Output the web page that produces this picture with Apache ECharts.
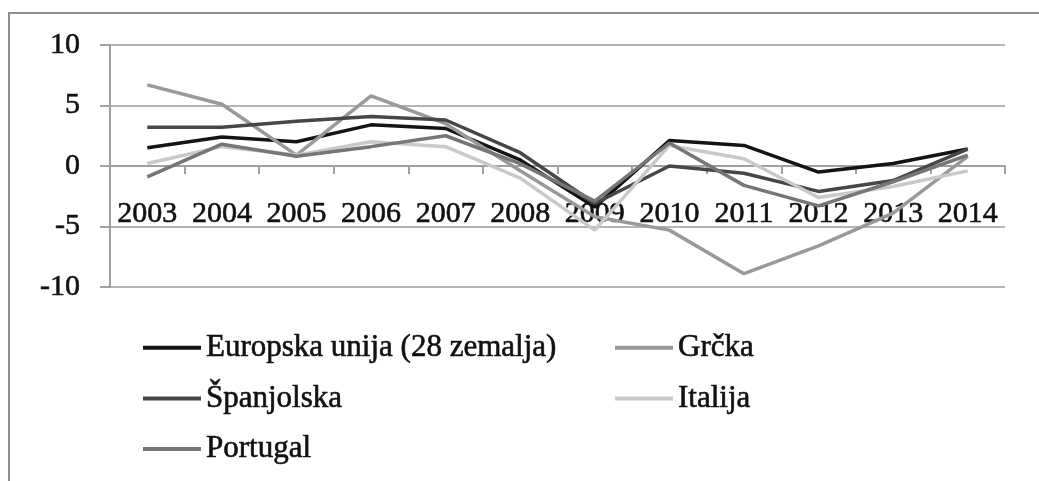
<!DOCTYPE html>
<html>
<head>
<meta charset="utf-8">
<title>Rast BDP-a</title>
<script src="https://cdn.jsdelivr.net/npm/echarts@6/dist/echarts.min.js"></script>
<style>
  html, body { margin: 0; padding: 0; background: #fff; }
  #chart { width: 1039px; height: 481px; }
</style>
</head>
<body>
<div id="chart"></div>
<script>
// godine
const years = ['2003', '2004', '2005', '2006', '2007', '2008', '2009', '2010', '2011', '2012', '2013', '2014']
const yTicks = [-10, -5, 0, 5, 10]

// stope rasta (%) po zemljama
const eu28 = [1.5, 2.4, 2.0, 3.4, 3.1, 0.5, -3.4, 2.1, 1.7, -0.5, 0.2, 1.4]
const grcka = [6.7, 5.1, 0.9, 5.8, 3.5, -0.4, -4.2, -5.3, -8.9, -6.6, -3.9, 0.8]
const spanjolska = [3.2, 3.2, 3.7, 4.1, 3.8, 1.1, -3.1, 0.0, -0.6, -2.1, -1.2, 1.4]
const italija = [0.2, 1.6, 0.9, 2.0, 1.6, -1.0, -5.3, 1.7, 0.6, -2.6, -1.7, -0.4]
const portugal = [-0.9, 1.8, 0.8, 1.6, 2.5, 0.2, -2.9, 1.9, -1.6, -3.3, -1.3, 0.9]

const serif = '"Liberation Serif", "DejaVu Serif", serif'
// malo deblji tekst, kao na slici
const textLook = { fontFamily: serif, fontSize: 30, color: '#111', textBorderColor: '#111', textBorderWidth: 0.6 }

const line = (name, data, color) => ({
  name: name,
  type: 'line',
  data: data,
  symbol: 'none',
  lineStyle: { color: color, width: 3.5 },
  itemStyle: { color: color }
})

// legenda u dva stupca
const legendBase = {
  orient: 'vertical',
  top: 327,
  icon: 'rect',
  itemWidth: 58,
  itemHeight: 4,
  itemGap: 19,
  textStyle: Object.assign({}, textLook, { fontSize: 31 })
}

const option = {
  animation: false,
  backgroundColor: '#fff',
  graphic: [{
    // okvir grafikona
    type: 'rect',
    shape: { x: 9, y: 13, width: 1100, height: 600 },
    style: { fill: 'none', stroke: '#8c8c8c', lineWidth: 2 },
    silent: true
  }],
  grid: { left: 110, right: 34, top: 45, bottom: 194 },
  legend: [
    Object.assign({}, legendBase, { left: 138, data: ['Europska unija (28 zemalja)', 'Španjolska', 'Portugal'] }),
    Object.assign({}, legendBase, { left: 610, data: ['Grčka', 'Italija'] })
  ],
  xAxis: {
    type: 'category',
    data: years,
    boundaryGap: true,
    // os prelazi preko nule
    offset: -121,
    axisLine: { onZero: false, lineStyle: { color: '#a0a0a0', width: 2 } },
    axisTick: { show: true, length: 8, lineStyle: { color: '#a0a0a0', width: 2 } },
    axisLabel: Object.assign({ interval: 0, margin: 33 }, textLook),
    splitLine: { show: false }
  },
  yAxis: {
    type: 'value',
    min: yTicks[0],
    max: yTicks[yTicks.length - 1],
    interval: 5,
    axisLine: { show: true, lineStyle: { color: '#a0a0a0', width: 2 } },
    axisTick: { show: true, length: 10, lineStyle: { color: '#a0a0a0', width: 2 } },
    axisLabel: Object.assign({ margin: 30 }, textLook),
    splitLine: { show: true, lineStyle: { color: '#b4b4b4', width: 2 } }
  },
  series: [
    line('Europska unija (28 zemalja)', eu28, '#141414'),
    line('Grčka', grcka, '#999999'),
    line('Španjolska', spanjolska, '#474747'),
    line('Italija', italija, '#c9c9c9'),
    line('Portugal', portugal, '#767676')
  ]
}

const chart = echarts.init(document.getElementById('chart'))
chart.setOption(option)
</script>
</body>
</html>
